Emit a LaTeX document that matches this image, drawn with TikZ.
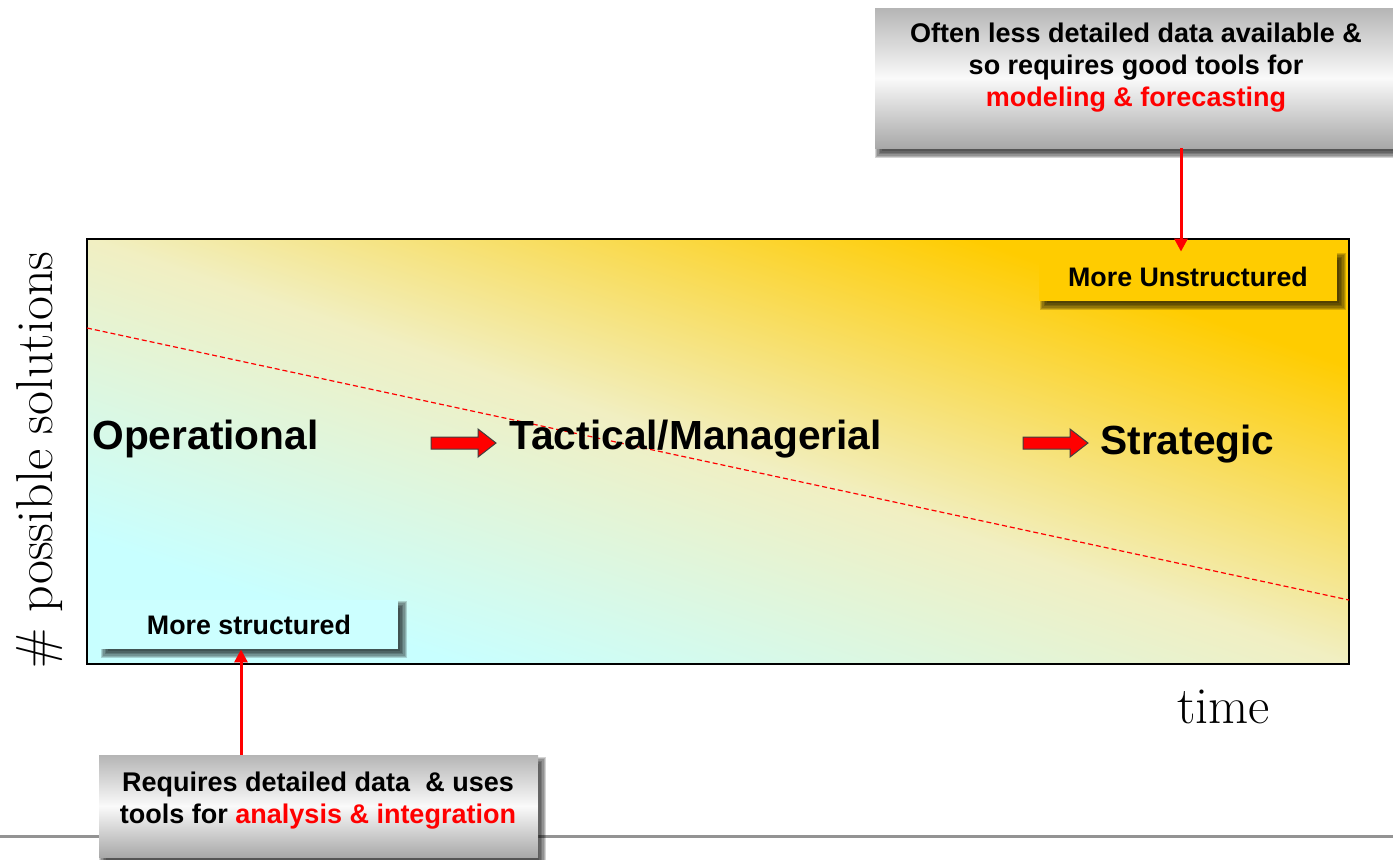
\documentclass[tikz,border=0pt]{standalone}
\usepackage{fontspec}
\newfontfamily\arialf{Liberation Sans}
\usetikzlibrary{arrows.meta}
\definecolor{gold}{HTML}{FFCC00}
\definecolor{paleyel}{HTML}{F1EFC2}
\definecolor{lcyan}{HTML}{C8FFFF}
\definecolor{boxcyan}{HTML}{CCFFFF}
\definecolor{redc}{HTML}{FF0000}
\pgfdeclarelayer{back}
\pgfdeclarelayer{shad}
\pgfsetlayers{back,shad,main}
\newcommand{\blurshadow}[3]{%
  \begin{pgfonlayer}{shad}
  \foreach \k in {0,...,5}{
    \fill[black, opacity=0.17]
      ([shift={(#2-4+\k*1.4,#3-4+\k*1.4)}]#1.north west) rectangle
      ([shift={(#2+4-\k*1.4,#3+4-\k*1.4)}]#1.south east);
  }
  \end{pgfonlayer}}
\begin{document}
\begin{tikzpicture}[x=0.5pt,y=-0.5pt,
  lbl/.style={font=\arialf\bfseries\fontsize{20.35}{24}\selectfont, inner sep=0},
  tagbox/.style={font=\arialf\bfseries\fontsize{13.4}{16}\selectfont, minimum width=149pt, minimum height=24.5pt, inner sep=0},
  callbox/.style={minimum height=#1, inner sep=0, top color=gray!58, bottom color=gray!68, middle color=gray!4},
  calltext/.style={font=\arialf\bfseries\fontsize{13.5}{16}\selectfont, align=center, inner sep=0},
  redarrow/.style={draw=redc, line width=1.5pt, -{Triangle[length=6.5pt,width=6.5pt]}},
  serifl/.style={font=\fontsize{26}{30}\selectfont, inner sep=0},
  blockarr/.pic={\path[fill=redc, draw=black!75, line width=0.5pt] (0,-6) -- (47,-6) -- (47,-14) -- (65,0) -- (47,14) -- (47,6) -- (0,6) -- cycle;}
]
\useasboundingbox (0,0) rectangle (1393,859);
\begin{pgfonlayer}{back}
% bottom rule
\draw[gray!85, line width=1.5pt] (0,836) -- (1393,836);
% main panel shading (diagonal, stretched)
\begin{scope}[transform canvas={xscale=2.969412}]
\shade[top color=gold, bottom color=lcyan, middle color=paleyel, shading angle=-45] (29.2987,239) rectangle (454.2987,664);
\end{scope}
\node[draw=black, line width=0.75pt, minimum width=631pt, minimum height=212.5pt, inner sep=0] (main) at (718,451.5) {};
\end{pgfonlayer}
% dashed trend line
\coordinate (dl) at (87,328);
\coordinate (dr) at (1349,600);
\draw[redc, line width=0.6pt, dash pattern=on 2.5pt off 1.5pt] (dl) -- (dr);
% labels
\node[lbl, anchor=base west] (op) at (92,449) {Operational};
\node[lbl, anchor=base west] (tac) at (509,449) {Tactical/Managerial};
\node[lbl, anchor=base west] (str) at (1100,454) {Strategic};
\pic at (431,443) {blockarr};
\pic at (1023,443) {blockarr};
% tag boxes
\node[tagbox, fill=gold] (unstr) at (1188,276.5) {More Unstructured};
\blurshadow{unstr}{5}{5}
\node[tagbox, fill=boxcyan] (struc) at (249,624.5) {More structured};
\blurshadow{struc}{5}{5}
% callouts
\node[callbox=70pt, minimum width=261pt] (topbox) at (1136,78) {};
\blurshadow{topbox}{4}{6}
\node[calltext] (toptext) at (1136,68) {Often less detailed data available \&\\so requires good tools for\\\textcolor{redc}{modeling \& forecasting}};
\node[callbox=51pt, minimum width=219.5pt] (botbox) at (318.5,806) {};
\blurshadow{botbox}{4}{6}
\node[calltext] (bottext) at (318,801) {Requires detailed data\ \ \& uses\\tools for \textcolor{redc}{analysis \& integration}};
% connectors
\draw[redarrow] (topbox.south -| unstr.north) ++(-7,0) coordinate (ta) -- (ta |- unstr.north);
\draw[redarrow] (botbox.north -| struc.south) ++(-8,0) coordinate (ba) -- (ba |- struc.south);
% axis labels
\node[serifl, rotate=90] (ylab) at (40,460) {\# possible solutions};
\node[serifl, anchor=base west] (tlab) at (1177,723) {time};
\end{tikzpicture}
\end{document}
